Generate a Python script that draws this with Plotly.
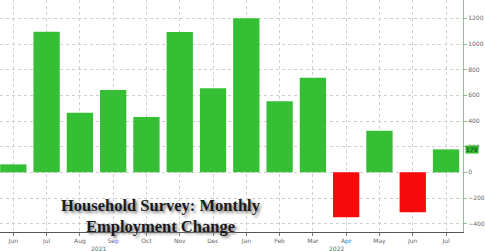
import plotly.graph_objects as go

months = ["Jun", "Jul", "Aug", "Sep", "Oct", "Nov", "Dec",
          "Jan", "Feb", "Mar", "Apr", "May", "Jun", "Jul"]
values = [62, 1096, 465, 641, 431, 1094, 655,
          1200, 553, 737, -350, 324, -312, 179]
years = ["2021", "2022"]
year_pos = [2.55, 9.7]
y_ticks = [-400, -200, 0, 200, 400, 600, 800, 1000, 1200]
last_value = 179

GREEN = "#34bf34"
RED = "#f80a0a"
colors = [GREEN if v >= 0 else RED for v in values]
x = list(range(len(months)))

fig = go.Figure()
fig.add_trace(go.Bar(x=x, y=values, marker=dict(color=colors, line=dict(width=0)),
                     showlegend=False))

fig.update_layout(
    width=485, height=251,
    margin=dict(l=0, r=12, t=0, b=19),
    paper_bgcolor="white", plot_bgcolor="white",
    bargap=0.21,
    font=dict(family="DejaVu Sans", size=6, color="#666"),
)
fig.update_xaxes(
    range=[-0.4, 13.51],
    tickmode="array", tickvals=x, ticktext=months,
    showgrid=True, gridcolor="#cfcfcf", griddash="dot", gridwidth=1,
    showline=True, linecolor="#555", linewidth=1,
    ticks="outside", ticklen=3, tickcolor="#777",
    tickfont=dict(size=6, color="#666"),
    zeroline=False, fixedrange=True,
)
fig.update_yaxes(
    range=[-465, 1343], side="right",
    tickmode="array", tickvals=y_ticks,
    showgrid=True, gridcolor="#cfcfcf", griddash="dot", gridwidth=1,
    showline=True, linecolor="#8fc08f", linewidth=1,
    ticks="outside", ticklen=3, tickcolor="#8fc08f",
    tickfont=dict(size=6, color="#666"),
    zeroline=False, fixedrange=True,
)

for yr, pos in zip(years, year_pos):
    fig.add_annotation(x=pos, y=0, xref="x", yref="paper", yanchor="top",
                       yshift=-11, text=yr, showarrow=False,
                       font=dict(size=6, color="#666"))

fig.add_annotation(x=1.0, y=last_value, xref="paper", yref="y", xanchor="left",
                   xshift=2, text=str(last_value), showarrow=False,
                   bgcolor="#2fb82f", font=dict(size=6, color="#114411"),
                   borderpad=0)

fig.add_annotation(
    x=0.348, y=0, xref="paper", yref="paper", xanchor="center", yanchor="bottom",
    yshift=-6,
    text="<b>Household Survey: Monthly<br>Employment Change</b>",
    showarrow=False, align="center",
    font=dict(family="Liberation Serif", size=16.5, color="#1a1a1a",
              shadow="2px 2px 3px #777"),
)

fig.write_html("out.html")
